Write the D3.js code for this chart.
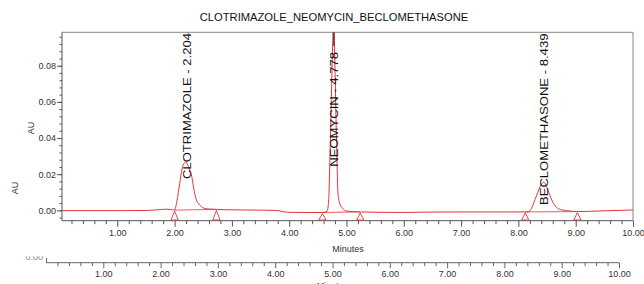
<!DOCTYPE html>
<html>
<head>
<meta charset="utf-8">
<script src="https://cdn.jsdelivr.net/npm/d3@7"></script>
<style>
    body { margin: 0; background: #fff; }
    #chart { width: 644px; height: 284px; }
    text { font-family: "Liberation Sans", Arial, sans-serif; }
</style>
</head>
<body>
<div id="chart"></div>
<script>
// trace: minutes / AU
const traceTime = [0.035, 0.5, 1.0, 1.5, 1.7, 1.85, 1.95, 2.00, 2.04, 2.09, 2.13, 2.17, 2.204, 2.23, 2.27, 2.30,
    2.34, 2.38, 2.44, 2.50, 2.60, 2.73, 2.9, 3.2, 3.5, 3.8, 3.9, 4.0, 4.3, 4.58, 4.66, 4.69, 4.71, 4.76, 4.778,
    4.79, 4.834, 4.85, 4.88, 4.93, 5.0, 5.24, 5.6, 6.0, 6.4, 7.0, 7.5, 8.0, 8.12, 8.17, 8.23, 8.29, 8.34, 8.40,
    8.439, 8.48, 8.53, 8.60, 8.66, 8.75, 8.9, 9.03, 9.2, 9.6, 10.0];
const traceAU = [-0.0002, -0.0002, -0.0002, -0.0001, 0.0003, 0.0006, 0.0004, 0.0001, 0.005, 0.015, 0.023, 0.0262,
    0.0267, 0.025, 0.022, 0.0186, 0.011, 0.0058, 0.003, 0.0013, 0.0007, 0.0005, 0.0003, 0.0002, 0.0001, -0.0001,
    -0.0008, -0.0011, -0.0012, -0.0012, -0.0006, 0.006, 0.028, 0.094, 0.115, 0.094, 0.028, 0.010, 0.004, 0.0012,
    -0.0004, -0.0009, -0.0011, -0.0012, -0.0010, -0.0009, -0.0009, -0.0009, -0.0009, -0.0008, 0.0011, 0.006,
    0.010, 0.0145, 0.0155, 0.014, 0.010, 0.0045, 0.0018, 0.0003, -0.0004, -0.0007, -0.0006, -0.0002, 0.0002];

const peakNames = ["CLOTRIMAZOLE", "NEOMYCIN", "BECLOMETHASONE"];
const peakTimes = [2.204, 4.778, 8.439];
const peakLabelAU = [0.0173, 0.0241, 0.0029];   // where each label starts

// integration marks
const intStart = [2.00, 4.58, 8.12];
const intEnd = [2.73, 5.24, 9.03];

const xTicks = [1, 2, 3, 4, 5, 6, 7, 8, 9, 10];
const yTicks = [0, 0.02, 0.04, 0.06, 0.08];
const chartTitle = "CLOTRIMAZOLE_NEOMYCIN_BECLOMETHASONE";

class Chromatogram {
    constructor(_parentElement) {
        this.parentElement = _parentElement;
        this.initVis();
    }

    initVis() {
        let vis = this;

        vis.width = 644;
        vis.height = 284;

        vis.svg = d3.select("#" + vis.parentElement)
            .append("svg")
            .attr("width", vis.width)
            .attr("height", vis.height);

        vis.x = d3.scaleLinear().domain([0.035, 10]).range([62, 633]);
        vis.y = d3.scaleLinear().domain([-0.00575, 0.0985]).range([220.7, 32.3]);
        // panel sitting behind, only its axis shows
        vis.x2 = d3.scaleLinear().domain([0, 10]).range([46, 619]);

        vis.svg.append("defs").append("clipPath")
            .attr("id", "plot-clip")
            .append("rect")
            .attr("x", 62).attr("y", 32.3)
            .attr("width", 571).attr("height", 188.4);

        vis.svg.select("defs").append("clipPath")
            .attr("id", "cut-clip")
            .append("rect")
            .attr("x", 0).attr("y", 256.3)
            .attr("width", 60).attr("height", 6);

        vis.wrangleData();
    }

    wrangleData() {
        let vis = this;
        vis.displayData = traceTime.map((t, i) => ({ t: t, au: traceAU[i] }));
        vis.auAt = t => vis.displayData.find(d => d.t === t).au;
        vis.updateVis();
    }

    updateVis() {
        let vis = this;
        let textCol = "#333";

        // back panel
        let back = vis.svg.append("g");
        back.append("g")
            .attr("transform", "translate(0,262.7)")
            .call(d3.axisBottom(vis.x2).tickValues(d3.range(0.2, 10, 0.2).filter(v => Math.abs(v - Math.round(v)) > 0.01))
                .tickSize(3.5).tickFormat(""))
            .call(g => g.select(".domain").remove())
            .call(g => g.selectAll("line").attr("stroke", "#666"));
        back.append("g")
            .attr("transform", "translate(0,262.7)")
            .call(d3.axisBottom(vis.x2).tickValues(xTicks).tickSize(5.5).tickPadding(2).tickFormat(d3.format(".2f")))
            .call(g => g.select(".domain").attr("d", "M46,0H619").attr("stroke", "#666"))
            .call(g => g.selectAll("line").attr("stroke", "#666"))
            .call(g => g.selectAll("text").attr("font-size", 9).attr("fill", textCol)
                .attr("font-family", "'Liberation Sans', Arial, sans-serif"));
        back.append("line")
            .attr("x1", 46.5).attr("x2", 46.5).attr("y1", 258).attr("y2", 262.7)
            .attr("stroke", "#666");
        back.append("text")
            .attr("x", 43).attr("y", 259.5)
            .attr("text-anchor", "end").attr("font-size", 9).attr("fill", "#888")
            .attr("clip-path", "url(#cut-clip)")
            .text("0.00");
        back.append("text")
            .attr("transform", "translate(18,188) rotate(-90)")
            .attr("text-anchor", "middle").attr("font-size", 9).attr("fill", textCol)
            .text("AU");
        back.append("text")
            .attr("x", vis.x2(5)).attr("y", 289)
            .attr("text-anchor", "middle").attr("font-size", 9).attr("fill", textCol)
            .text("Minutes");

        // title
        vis.svg.append("text")
            .attr("x", 334).attr("y", 20.7)
            .attr("text-anchor", "middle").attr("font-size", 11.2).attr("fill", "#111")
            .text(chartTitle);

        // frame
        vis.svg.append("path")
            .attr("d", "M62,32.3H633V220.7")
            .attr("fill", "none").attr("stroke", "#888");

        // x axis
        vis.svg.append("g")
            .attr("transform", "translate(0,220.7)")
            .call(d3.axisBottom(vis.x).tickValues(d3.range(0.2, 10, 0.2).filter(v => Math.abs(v - Math.round(v)) > 0.01))
                .tickSize(3.5).tickFormat(""))
            .call(g => g.select(".domain").remove())
            .call(g => g.selectAll("line").attr("stroke", "#555"));
        vis.svg.append("g")
            .attr("transform", "translate(0,220.7)")
            .call(d3.axisBottom(vis.x).tickValues(xTicks).tickSize(6).tickPadding(3).tickFormat(d3.format(".2f")))
            .call(g => g.select(".domain").attr("d", "M62,0H633").attr("stroke", "#555"))
            .call(g => g.selectAll("line").attr("stroke", "#555"))
            .call(g => g.selectAll("text").attr("font-size", 9).attr("fill", textCol)
                .attr("font-family", "'Liberation Sans', Arial, sans-serif"));
        vis.svg.append("text")
            .attr("x", 348).attr("y", 252)
            .attr("text-anchor", "middle").attr("font-size", 9).attr("fill", textCol)
            .text("Minutes");

        // y axis
        vis.svg.append("g")
            .attr("transform", "translate(62,0)")
            .call(d3.axisLeft(vis.y).tickValues(d3.range(-0.004, 0.098, 0.004)).tickSize(2.5).tickFormat(""))
            .call(g => g.select(".domain").remove())
            .call(g => g.selectAll("line").attr("stroke", "#555"));
        vis.svg.append("g")
            .attr("transform", "translate(62,0)")
            .call(d3.axisLeft(vis.y).tickValues(yTicks).tickSize(5).tickPadding(1).tickFormat(d3.format(".2f")))
            .call(g => g.select(".domain").attr("d", "M0,32.3V220.7").attr("stroke", "#555"))
            .call(g => g.selectAll("line").attr("stroke", "#555"))
            .call(g => g.selectAll("text").attr("font-size", 9).attr("fill", textCol)
                .attr("font-family", "'Liberation Sans', Arial, sans-serif"));
        vis.svg.append("text")
            .attr("transform", "translate(34,128) rotate(-90)")
            .attr("text-anchor", "middle").attr("font-size", 9).attr("fill", textCol)
            .text("AU");

        // trace
        let plot = vis.svg.append("g").attr("clip-path", "url(#plot-clip)");
        let red = "#e4333c";

        plot.append("path")
            .datum(vis.displayData)
            .attr("fill", "none")
            .attr("stroke", red)
            .attr("stroke-width", 1)
            .attr("d", d3.line().x(d => vis.x(d.t)).y(d => vis.y(d.au)).curve(d3.curveMonotoneX));

        // baselines + integration triangles
        intStart.forEach((s, i) => {
            let e = intEnd[i];
            plot.append("line")
                .attr("x1", vis.x(s)).attr("y1", vis.y(vis.auAt(s)))
                .attr("x2", vis.x(e)).attr("y2", vis.y(vis.auAt(e)))
                .attr("stroke", red).attr("stroke-width", 0.8);
            [s, e].forEach(t => {
                let cx = vis.x(t), top = vis.y(vis.auAt(t)) + 1, bot = 220;
                plot.append("path")
                    .attr("d", `M${cx - 3.6},${bot}L${cx},${top}L${cx + 3.6},${bot}Z`)
                    .attr("fill", "none").attr("stroke", red).attr("stroke-width", 0.9);
            });
        });

        // peak labels
        peakNames.forEach((n, i) => {
            let px = vis.x(peakTimes[i]);
            let py = vis.y(peakLabelAU[i]);
            let lbl = vis.svg.append("text")
                .attr("transform", `translate(${px + 4.3},${py}) rotate(-90) scale(1.19,1)`)
                .attr("font-size", 11).attr("fill", "#111")
                .text(n + " - " + peakTimes[i].toFixed(3));
            let len = lbl.node().getComputedTextLength() * 1.19;
            let topY = py - len - 6;
            if (topY > 33) {
                vis.svg.append("line")
                    .attr("x1", px).attr("x2", px)
                    .attr("y1", 32.3).attr("y2", topY)
                    .attr("stroke", "#222").attr("stroke-width", 1);
            }
        });
    }
}

new Chromatogram("chart");
</script>
</body>
</html>
